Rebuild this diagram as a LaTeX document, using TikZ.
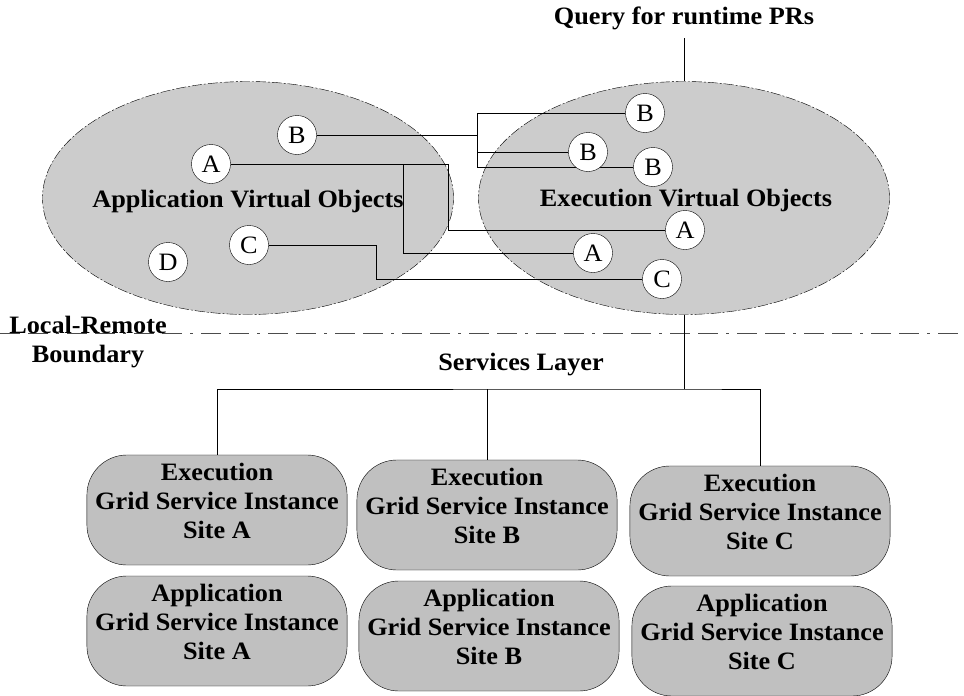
\documentclass[tikz,border=0pt]{standalone}
\usepackage{fontspec}
\setmainfont{Liberation Serif}[FakeStretch=1.05]
\usetikzlibrary{shapes.geometric}

\definecolor{ovalgray}{RGB}{204,204,204}
\definecolor{boxgray}{RGB}{192,192,192}

\pgfdeclarelayer{back}
\pgfdeclarelayer{wires}
\pgfsetlayers{back,wires,main}

\tikzset{
  vobj/.style={draw, ellipse, fill=ovalgray, dash pattern=on 10pt off 2pt on 2pt off 2pt,
    inner sep=0pt, minimum width=411pt, minimum height=233pt},
  obj/.style={draw, circle, fill=white, inner sep=0pt, minimum size=39pt},
  gsi/.style={draw, fill=boxgray, rounded corners=40pt, minimum width=257pt,
    minimum height=110pt, align=center, text depth=18pt, font=\bfseries},
  lbl/.style={font=\bfseries, align=center},
  boundary/.style={black!70, dash pattern=on 20pt off 8pt on 20pt off 8pt on 3pt off 8pt}
}

\begin{document}
\fontsize{25}{29}\selectfont
\begin{tikzpicture}[x=1pt, y=-1pt, line width=0.8pt]
  \useasboundingbox (0,0) rectangle (964,696);

  % object spaces
  \begin{pgfonlayer}{back}
    \node[vobj] (app) at (248,198) {};
    \node[vobj] (exec) at (684,198) {};
    \node[lbl] (appname) at (248,201) {Application Virtual Objects};
    \node[lbl] (execname) at (686,200) {Execution Virtual Objects};
  \end{pgfonlayer}

  \node[obj] (lA) at (211,164) {A};
  \node[obj] (lB) at (297,135) {B};
  \node[obj] (lC) at (249,245) {C};
  \node[obj] (lD) at (168,262) {D};

  \node[obj] (rB1) at (645,113) {B};
  \node[obj] (rB2) at (588,152) {B};
  \node[obj] (rB3) at (653,167) {B};
  \node[obj] (rA1) at (685,230) {A};
  \node[obj] (rA2) at (593,253) {A};
  \node[obj] (rC) at (662,279) {C};

  \coordinate (jB) at (477,135);
  \coordinate (jA1) at (403,164);
  \coordinate (jA2) at (448,164);
  \coordinate (jC) at (376,245);

  \begin{pgfonlayer}{wires}
    \draw (lB) -- (jB);
    \foreach \to in {rB1,rB2,rB3}
      \draw (jB) |- (\to);
    \draw (lA) -- (jA2) |- (rA1);
    \draw (jA1) |- (rA2);
    \draw (lC) -- (jC) |- (rC);
  \end{pgfonlayer}

  \node[lbl] (query) at (684,18) {Query for runtime PRs};
  \draw (query) -- (exec);

  % local / remote
  \draw[boundary] (0,333) -- (964,333);
  \node[lbl] (lrb) at (88,342) {Local-Remote\\Boundary};
  \node[lbl] (svc) at (521,365) {Services Layer};

  % grid service instances
  \node[gsi] (eA) at (217,510) {Execution\\Grid Service Instance\\Site A};
  \node[gsi] (eB) at (487,515) {Execution\\Grid Service Instance\\Site B};
  \node[gsi] (eC) at (760,521) {Execution\\Grid Service Instance\\Site C};
  \node[gsi] (aA) at (217,631) {Application\\Grid Service Instance\\Site A};
  \node[gsi] (aB) at (489,636) {Application\\Grid Service Instance\\Site B};
  \node[gsi] (aC) at (762,641) {Application\\Grid Service Instance\\Site C};

  \coordinate (bus) at (684,389);
  \draw (exec) -- (bus);
  \draw (eA) |- (bus) -| (eC);
  \draw (eB) -- (eB |- bus);
\end{tikzpicture}
\end{document}
